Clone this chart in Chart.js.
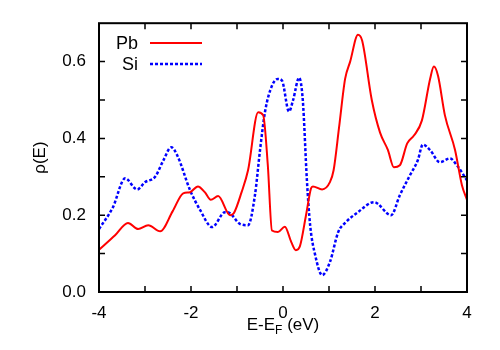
<!DOCTYPE html>
<html>
<head>
<meta charset="utf-8">
<script src="https://cdn.jsdelivr.net/npm/chart.js@4"></script>
<style>
  html, body { margin: 0; padding: 0; background: #fff; }
  #wrap { width: 500px; height: 350px; }
</style>
</head>
<body>
<div id="wrap"><canvas id="dos"></canvas></div>
<script>
// energies (eV) and densities
const pbE = [-4, -3.65, -3.37, -3.15, -2.93, -2.67, -2.4, -2.17, -2.02, -1.85, -1.7, -1.57, -1.41, -1.15, -1.07, -0.9, -0.76, -0.54, -0.43, -0.33, -0.24, -0.11, 0.04, 0.18, 0.28, 0.37, 0.5, 0.61, 0.65, 0.85, 1.02, 1.1, 1.22, 1.35, 1.46, 1.63, 1.72, 1.93, 2.11, 2.28, 2.41, 2.54, 2.7, 2.85, 3.02, 3.2, 3.28, 3.37, 3.52, 3.74, 3.89, 4];
const pbRho = [0.11, 0.148, 0.18, 0.164, 0.174, 0.158, 0.21, 0.257, 0.26, 0.275, 0.26, 0.24, 0.25, 0.2, 0.205, 0.26, 0.317, 0.468, 0.46, 0.33, 0.16, 0.156, 0.17, 0.13, 0.109, 0.12, 0.2, 0.27, 0.275, 0.267, 0.286, 0.317, 0.43, 0.555, 0.6, 0.67, 0.655, 0.5, 0.415, 0.37, 0.325, 0.33, 0.387, 0.408, 0.447, 0.556, 0.587, 0.563, 0.46, 0.37, 0.278, 0.24];

const siE = [-4, -3.7, -3.43, -3.17, -3.0, -2.78, -2.6, -2.43, -2.3, -2.02, -1.8, -1.54, -1.26, -1.15, -0.93, -0.76, -0.61, -0.5, -0.39, -0.24, -0.11, -0.02, 0.13, 0.22, 0.35, 0.43, 0.52, 0.59, 0.7, 0.85, 1.02, 1.2, 1.35, 1.63, 1.98, 2.35, 2.54, 2.76, 2.93, 3.04, 3.2, 3.41, 3.63, 3.78, 4];
const siRho = [0.164, 0.22, 0.296, 0.267, 0.286, 0.3, 0.343, 0.377, 0.356, 0.265, 0.213, 0.169, 0.208, 0.205, 0.177, 0.174, 0.252, 0.369, 0.47, 0.537, 0.555, 0.55, 0.47, 0.5, 0.558, 0.5, 0.29, 0.174, 0.096, 0.044, 0.078, 0.156, 0.18, 0.208, 0.234, 0.2, 0.252, 0.304, 0.343, 0.384, 0.369, 0.338, 0.348, 0.33, 0.291];

const seriesNames = ['Pb', 'Si'];
const xTickLabels = [-4, -2, 0, 2, 4];
const yTickLabels = ['0.0', '0.2', '0.4', '0.6'];

const FONT = 'Liberation Sans, Arial, Helvetica, sans-serif';
const FS = 17;

const toPoints = (xs, ys) => xs.map((x, i) => ({ x: x, y: ys[i] }));

// gnuplot-like frame: inward ticks on all four sides, custom legend and titles
const framePlugin = {
    id: 'frame',
    afterDraw(chart) {
        const ctx = chart.ctx;
        const a = chart.chartArea;
        const xs = chart.scales.x;
        const ys = chart.scales.y;
        const tl = 6;

        ctx.save();
        ctx.strokeStyle = '#000';
        ctx.lineWidth = 2;
        ctx.strokeRect(a.left, a.top, a.right - a.left, a.bottom - a.top);

        ctx.lineWidth = 1.5;
        ctx.beginPath();
        for (let v = -3; v <= 3; v++) {
            const px = xs.getPixelForValue(v);
            ctx.moveTo(px, a.bottom); ctx.lineTo(px, a.bottom - tl);
            ctx.moveTo(px, a.top); ctx.lineTo(px, a.top + tl);
        }
        for (let k = 1; k <= 6; k++) {
            const py = ys.getPixelForValue(k / 10);
            ctx.moveTo(a.left, py); ctx.lineTo(a.left + tl, py);
            ctx.moveTo(a.right, py); ctx.lineTo(a.right - tl, py);
        }
        ctx.stroke();

        // legend
        ctx.font = '18px ' + FONT;
        ctx.fillStyle = '#000';
        ctx.textAlign = 'right';
        ctx.textBaseline = 'middle';
        chart.data.datasets.forEach((ds, i) => {
            const y = 43 + i * 21;
            ctx.fillText(ds.label, 138, y + 1);
            ctx.save();
            ctx.strokeStyle = ds.borderColor;
            ctx.lineWidth = ds.borderWidth;
            ctx.setLineDash(ds.borderDash || []);
            ctx.beginPath();
            ctx.moveTo(150, y); ctx.lineTo(202, y);
            ctx.stroke();
            ctx.restore();
        });

        // x title with subscript F
        ctx.textAlign = 'left';
        ctx.textBaseline = 'alphabetic';
        const base = 330;
        const p1 = 'E-E', p2 = 'F', p3 = ' (eV)';
        ctx.font = FS + 'px ' + FONT;
        const w1 = ctx.measureText(p1).width;
        const w3 = ctx.measureText(p3).width;
        ctx.font = '12px ' + FONT;
        const w2 = ctx.measureText(p2).width;
        let x0 = (a.left + a.right) / 2 - (w1 + w2 + w3) / 2;
        ctx.font = FS + 'px ' + FONT;
        ctx.fillText(p1, x0, base);
        ctx.font = '12px ' + FONT;
        ctx.fillText(p2, x0 + w1, base + 4);
        ctx.font = FS + 'px ' + FONT;
        ctx.fillText(p3, x0 + w1 + w2, base);

        // y title
        ctx.translate(40, (a.top + a.bottom) / 2);
        ctx.rotate(-Math.PI / 2);
        ctx.textAlign = 'center';
        ctx.textBaseline = 'middle';
        ctx.fillText('\u03C1(E)', 0, 0);
        ctx.restore();
    }
};

new Chart(document.getElementById('dos'), {
    type: 'line',
    data: {
        datasets: [
            {
                label: seriesNames[0],
                data: toPoints(pbE, pbRho),
                borderColor: '#ff0000',
                borderWidth: 2,
                pointRadius: 0,
                tension: 0.4,
                cubicInterpolationMode: 'monotone'
            },
            {
                label: seriesNames[1],
                data: toPoints(siE, siRho),
                borderColor: '#0000ff',
                borderWidth: 2.5,
                borderDash: [3, 2],
                pointRadius: 0,
                tension: 0.4,
                cubicInterpolationMode: 'monotone'
            }
        ]
    },
    options: {
        responsive: true,
        maintainAspectRatio: false,
        animation: false,
        layout: { padding: { left: 0, right: 33, top: 23, bottom: 0 } },
        plugins: { legend: { display: false }, tooltip: { enabled: false } },
        scales: {
            x: {
                type: 'linear',
                min: -4,
                max: 4,
                afterBuildTicks: s => { s.ticks = xTickLabels.map(v => ({ value: v })); },
                afterFit: s => { s.height = 58; },
                grid: { display: false, drawTicks: false },
                border: { display: false },
                ticks: { color: '#000', padding: 11, font: { family: FONT, size: FS }, maxRotation: 0,
                    callback: v => String(v) }
            },
            y: {
                min: 0,
                max: 0.7,
                afterBuildTicks: s => { s.ticks = yTickLabels.map(t => ({ value: parseFloat(t) })); },
                afterFit: s => { s.width = 99; },
                grid: { display: false, drawTicks: false },
                border: { display: false },
                ticks: { color: '#000', padding: 13, font: { family: FONT, size: FS },
                    callback: v => yTickLabels.find(t => Math.abs(parseFloat(t) - v) < 1e-6) }
            }
        }
    },
    plugins: [framePlugin]
});
</script>
</body>
</html>
